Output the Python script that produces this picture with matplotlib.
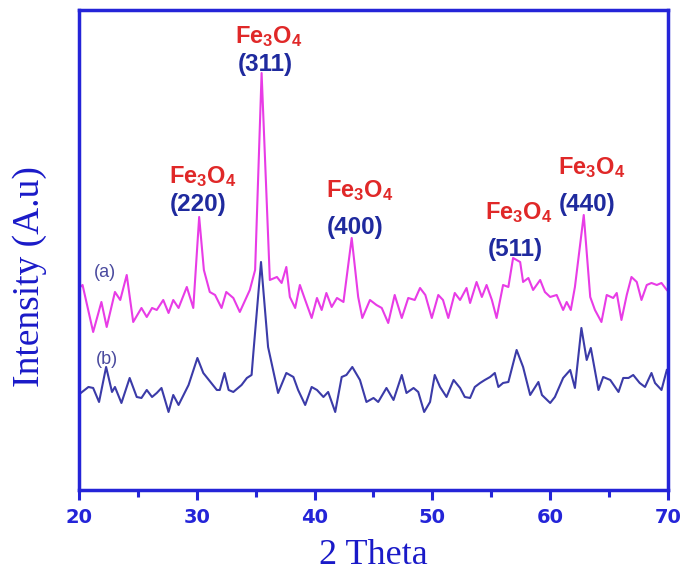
import numpy as np
import matplotlib.pyplot as plt
from matplotlib.ticker import MultipleLocator

plt.rcParams['mathtext.fontset'] = 'custom'
plt.rcParams['mathtext.rm'] = 'Liberation Sans:bold'
plt.rcParams['mathtext.bf'] = 'Liberation Sans:bold'
plt.rcParams['mathtext.default'] = 'bf'

# pattern (a) - magenta
theta_a = [20.1, 20.3, 21.2, 21.9, 22.35, 23.05, 23.5, 24.05, 24.6, 25.3, 25.75, 26.2, 26.6,
           27.15, 27.6, 28.0, 28.45, 29.15, 29.7, 30.2, 30.6, 31.1, 31.55, 32.1, 32.5, 33.1,
           33.65, 34.5, 34.95, 35.5, 36.2, 36.8, 37.2, 37.6, 37.9, 38.35, 38.75, 39.2, 39.75,
           40.2, 40.6, 41.0, 41.45, 41.9, 42.45, 43.15, 43.7, 44.05, 44.7, 45.25, 45.7, 46.25,
           46.8, 47.4, 47.95, 48.5, 48.95, 49.4, 49.95, 50.5, 50.9, 51.35, 51.9, 52.35, 52.9,
           53.2, 53.75, 54.2, 54.6, 55.05, 55.45, 56.0, 56.45, 56.85, 57.15, 57.45, 57.7, 58.15,
           58.55, 59.15, 59.55, 60.0, 60.55, 61.1, 61.4, 61.75, 62.1, 62.85, 63.4, 63.8, 64.35,
           64.8, 65.35, 65.65, 66.05, 66.5, 66.9, 67.35, 67.75, 68.2, 68.6, 69.05, 69.45, 69.9]
int_a = [203, 205, 158, 188, 163, 198, 190, 215, 168, 182, 173, 182, 180,
         190, 177, 190, 182, 203, 182, 273, 220, 198, 195, 182, 198, 192,
         178, 200, 220, 417, 210, 213, 207, 223, 193, 182, 205, 190, 172,
         192, 180, 197, 183, 192, 188, 252, 193, 172, 190, 185, 182, 167,
         195, 172, 192, 190, 202, 195, 172, 195, 190, 172, 197, 190, 202,
         187, 208, 193, 205, 190, 172, 205, 203, 232, 230, 228, 208, 212,
         200, 210, 198, 193, 195, 180, 188, 180, 203, 275, 193, 180, 168,
         195, 192, 197, 170, 195, 213, 208, 190, 205, 207, 205, 207, 200]

# pattern (b) - blue
theta_b = [20.15, 20.8, 21.2, 21.7, 22.3, 22.8, 23.05, 23.6, 24.3, 24.9, 25.3, 25.75, 26.2,
           26.6, 27.0, 27.6, 28.0, 28.45, 29.3, 30.05, 30.55, 31.7, 31.95, 32.35, 32.7, 33.1,
           33.8, 34.25, 34.65, 34.8, 35.45, 36.05, 36.9, 37.6, 38.2, 38.6, 39.2, 39.75, 40.2,
           40.75, 41.15, 41.75, 42.3, 42.7, 43.2, 43.85, 44.4, 45.0, 45.4, 46.1, 46.7, 47.4,
           47.8, 48.4, 48.8, 49.3, 49.8, 50.2, 50.65, 51.2, 51.8, 52.35, 52.75, 53.2, 53.6,
           54.05, 54.45, 54.9, 55.3, 55.6, 56.0, 56.45, 57.15, 57.7, 58.3, 59.0, 59.3, 60.0,
           60.4, 61.1, 61.7, 62.1, 62.65, 63.1, 63.45, 64.1, 64.5, 65.1, 65.8, 66.2, 66.65,
           67.05, 67.6, 68.05, 68.6, 68.9, 69.45, 69.9]
int_b = [97, 103, 102, 88, 123, 98, 103, 87, 112, 93, 92, 100, 93,
         97, 102, 78, 95, 85, 105, 132, 117, 100, 100, 117, 100, 98,
         105, 112, 115, 137, 228, 143, 97, 117, 113, 100, 85, 103, 100,
         93, 98, 78, 113, 115, 123, 110, 88, 92, 88, 102, 90, 115,
         97, 102, 98, 78, 88, 115, 103, 93, 110, 102, 93, 92, 103,
         107, 110, 113, 117, 103, 107, 108, 140, 123, 95, 108, 95, 87,
         93, 112, 120, 102, 162, 130, 142, 100, 113, 110, 98, 112, 112,
         115, 107, 103, 117, 107, 100, 120]

# reflections
hkl = ['(220)', '(311)', '(400)', '(511)', '(440)']
hkl_x = [30.1, 35.8, 43.4, 57.0, 63.1]
hkl_y = [285, 425, 262, 240, 285]
fe_x = [30.5, 36.1, 43.8, 57.3, 63.55]
fe_y = [313, 453, 299, 277, 322]

blue = '#2424d8'
navy = '#1f2a9e'

fig = plt.figure(figsize=(6.83, 5.71), dpi=100)
ax = fig.add_axes([0.1157, 0.1419, 0.8623, 0.8406])

ax.plot(theta_a, int_a, color='#e83ce6', lw=1.5, solid_joinstyle='round')
ax.plot(theta_b, int_b, color='#3b3ba8', lw=1.5, solid_joinstyle='round')

for i in range(len(hkl)):
    ax.text(fe_x[i], fe_y[i], r'Fe$_3$O$_4$', color='#e02828', fontsize=17,
            fontweight='bold', family='Liberation Sans', ha='center', va='center')
    ax.text(hkl_x[i], hkl_y[i], hkl[i], color=navy, fontsize=17.5,
            fontweight='bold', family='Liberation Sans', ha='center', va='center')

ax.text(22.2, 217, '(a)', color='#4a4a9e', fontsize=13, family='Liberation Sans',
        ha='center', va='center')
ax.text(22.4, 130, '(b)', color='#4a4a9e', fontsize=13, family='Liberation Sans',
        ha='center', va='center')

ax.set_xlim(20, 70)
ax.set_ylim(0, 480)
ax.set_yticks([])
ax.xaxis.set_major_locator(MultipleLocator(10))
ax.xaxis.set_minor_locator(MultipleLocator(5))
ax.tick_params(axis='x', which='major', direction='out', length=7, width=2.2, color=blue,
               labelcolor=blue, labelsize=14, pad=6)
ax.tick_params(axis='x', which='minor', direction='out', length=5, width=2.2, color=blue)
for lab in ax.get_xticklabels():
    lab.set_fontweight('bold')
    lab.set_family('Liberation Sans Narrow')
for sp in ax.spines.values():
    sp.set_color(blue)
    sp.set_linewidth(2.5)

fig.text(373 / 683, 1 - 555 / 571, '2 Theta', fontsize=26, color='#1a1ac8',
         family='Liberation Serif', ha='center', va='center')
fig.text(30 / 683, 1 - 277 / 571, 'Intensity (A.u)', fontsize=27, color='#1a1ac8',
         family='Liberation Serif', rotation=90, ha='center', va='center')

fig.savefig('out.png', dpi=100)
